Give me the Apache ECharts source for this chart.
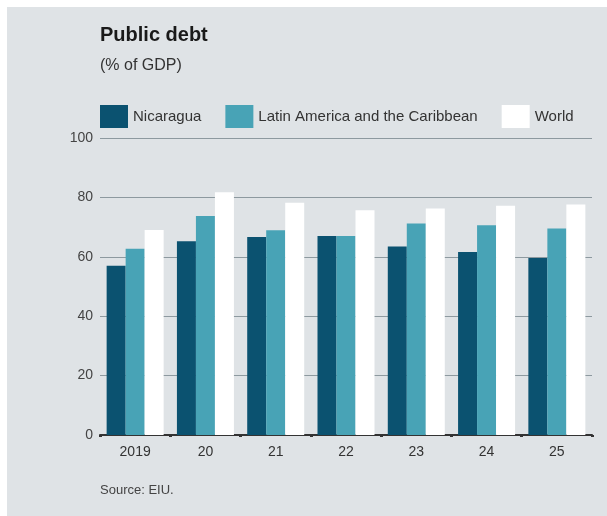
<!DOCTYPE html>
<html>
<head>
<meta charset="utf-8">
<script src="https://cdn.jsdelivr.net/npm/echarts@6/dist/echarts.min.js"></script>
<style>
html,body{margin:0;padding:0;background:#fff;}
#c{width:607px;height:516px;}
</style>
</head>
<body>
<div id="c"></div>
<script>
const categories = ['2019', '20', '21', '22', '23', '24', '25'];
const nicaragua = [57.0, 65.2, 66.7, 67.0, 63.5, 61.6, 59.6];
const latinAmerica = [62.7, 73.7, 68.9, 67.0, 71.2, 70.6, 69.5];
const world = [69.0, 81.7, 78.2, 75.7, 76.3, 77.2, 77.6];
const yTicks = [0, 20, 40, 60, 80, 100];

const FONT = '"Liberation Sans", sans-serif';
const chart = echarts.init(document.getElementById('c'), null, {renderer: 'canvas'});
chart.setOption({
  backgroundColor: '#fff',
  animation: false,
  textStyle: {fontFamily: FONT},
  graphic: [
    {type: 'rect', left: 7, top: 7, shape: {width: 600, height: 509}, style: {fill: '#dfe3e6'}, z: -10},
    {type: 'text', left: 100, top: 25, style: {text: 'Public debt', font: 'bold 20px ' + FONT, fill: '#1a1a1a'}},
    {type: 'text', left: 100, top: 58, style: {text: '(% of GDP)', font: '16px ' + FONT, fill: '#333'}},
    {type: 'text', left: 100, top: 484, style: {text: 'Source: EIU.', font: '13px ' + FONT, fill: '#444'}}
  ],
  legend: {
    left: 100, top: 105, padding: 0,
    itemWidth: 28, itemHeight: 23, itemGap: 24,
    icon: 'rect',
    textStyle: {fontFamily: FONT, fontSize: 15, color: '#333'},
    data: ['Nicaragua', 'Latin America and the Caribbean', 'World']
  },
  grid: {left: 100, right: 15, top: 138, bottom: 81, containLabel: false},
  xAxis: {
    type: 'category', data: categories,
    axisLine: {show: true, lineStyle: {color: '#333', width: 2}},
    axisTick: {show: true, length: 2, lineStyle: {color: '#333', width: 3}},
    axisLabel: {color: '#333', fontSize: 14, margin: 10, fontFamily: FONT}
  },
  yAxis: {
    type: 'value', min: 0, max: 100, interval: 20,
    axisLine: {show: false}, axisTick: {show: false},
    axisLabel: {color: '#444', fontSize: 14, margin: 7, fontFamily: FONT},
    splitLine: {lineStyle: {color: '#8d999f', width: 1}}
  },
  series: [
    {name: 'Nicaragua', type: 'bar', data: nicaragua, barWidth: 19, barGap: '0%', itemStyle: {color: '#0b5270'}},
    {name: 'Latin America and the Caribbean', type: 'bar', data: latinAmerica, barWidth: 19, barGap: '0%', itemStyle: {color: '#48a3b6'}},
    {name: 'World', type: 'bar', data: world, barWidth: 19, barGap: '0%', itemStyle: {color: '#ffffff'}}
  ]
});
</script>
</body>
</html>
